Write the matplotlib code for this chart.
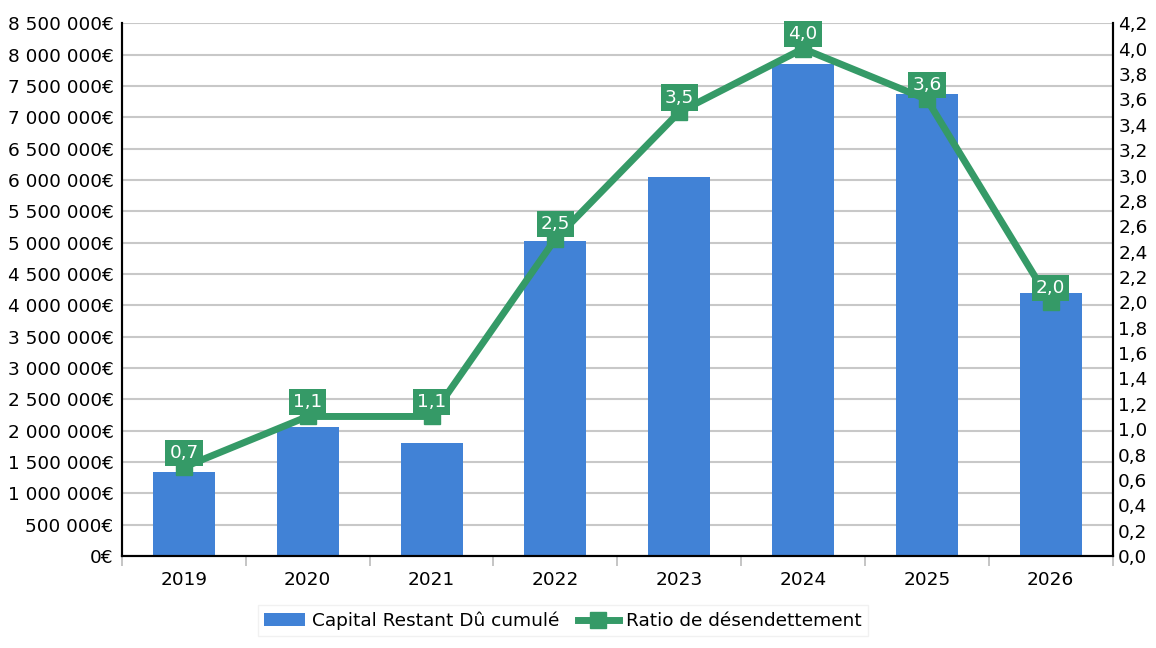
import matplotlib.pyplot as plt
import numpy as np
from matplotlib.ticker import FuncFormatter, MultipleLocator

# values per year
years = ['2019', '2020', '2021', '2022', '2023', '2024', '2025', '2026']
capital = [1340000, 2060000, 1800000, 5020000, 6040000, 7850000, 7370000, 4190000]
ratio = [0.7, 1.1, 1.1, 2.5, 3.5, 4.0, 3.6, 2.0]

BLUE = '#4182D6'
GREEN = '#359A67'

plt.rcParams['font.family'] = 'DejaVu Sans'

fig = plt.figure(figsize=(11.56, 6.48), dpi=100)
ax = fig.add_axes([0.1055, 0.142, 0.857, 0.822])
ax2 = ax.twinx()

x = np.arange(len(years))
ax.bar(x, capital, width=0.5, color=BLUE, zorder=2, label='Capital Restant Dû cumulé')

ax.set_xlim(-0.5, len(years) - 0.5)
ax.set_ylim(0, 8500000)
ax.yaxis.set_major_locator(MultipleLocator(500000))


def euro(v, pos):
    return '{:,.0f}€'.format(v).replace(',', ' ')


ax.yaxis.set_major_formatter(FuncFormatter(euro))
ax.grid(axis='y', color='#C8C8C8', linewidth=1.5, zorder=0)
ax.set_axisbelow(True)

ax.set_xticks(x)
ax.set_xticklabels(years)
ax.set_xticks(np.arange(-0.5, len(years), 1), minor=True)
ax.tick_params(axis='x', which='major', length=0, labelsize=13.3, pad=11)
ax.tick_params(axis='x', which='minor', length=7, color='#BBBBBB', width=1.2)
ax.tick_params(axis='y', length=0, labelsize=13.3, pad=6)

# ratio line on the right axis
ax2.plot(x, ratio, color=GREEN, linewidth=5, marker='s', markersize=11,
         zorder=3, label='Ratio de désendettement')
ax2.set_ylim(0, 4.2)
ax2.yaxis.set_major_locator(MultipleLocator(0.2))
ax2.yaxis.set_major_formatter(FuncFormatter(lambda v, p: '{:.1f}'.format(v).replace('.', ',')))
ax2.tick_params(axis='y', length=0, labelsize=13.3, pad=4)

for xi, r in zip(x, ratio):
    ax2.annotate('{:.1f}'.format(r).replace('.', ','), (xi, r), xytext=(0, 10.5),
                 textcoords='offset points', ha='center', va='center',
                 color='white', fontsize=13.3, zorder=5,
                 bbox=dict(boxstyle='square,pad=0.22', fc=GREEN, ec='none'))

for a in (ax, ax2):
    a.spines['top'].set_visible(False)
    a.spines['left'].set_linewidth(1.5)
    a.spines['right'].set_linewidth(1.5)
    a.spines['bottom'].set_linewidth(1.5)

h1, l1 = ax.get_legend_handles_labels()
h2, l2 = ax2.get_legend_handles_labels()
fig.legend(h1 + h2, l1 + l2, loc='center', bbox_to_anchor=(0.487, 0.042), ncol=2,
           fontsize=13.3, frameon=True, fancybox=False, edgecolor='#EEEEEE',
           handlelength=2.2, columnspacing=1.0, handletextpad=0.4, borderpad=0.35)

fig.savefig('out.png', dpi=100)
